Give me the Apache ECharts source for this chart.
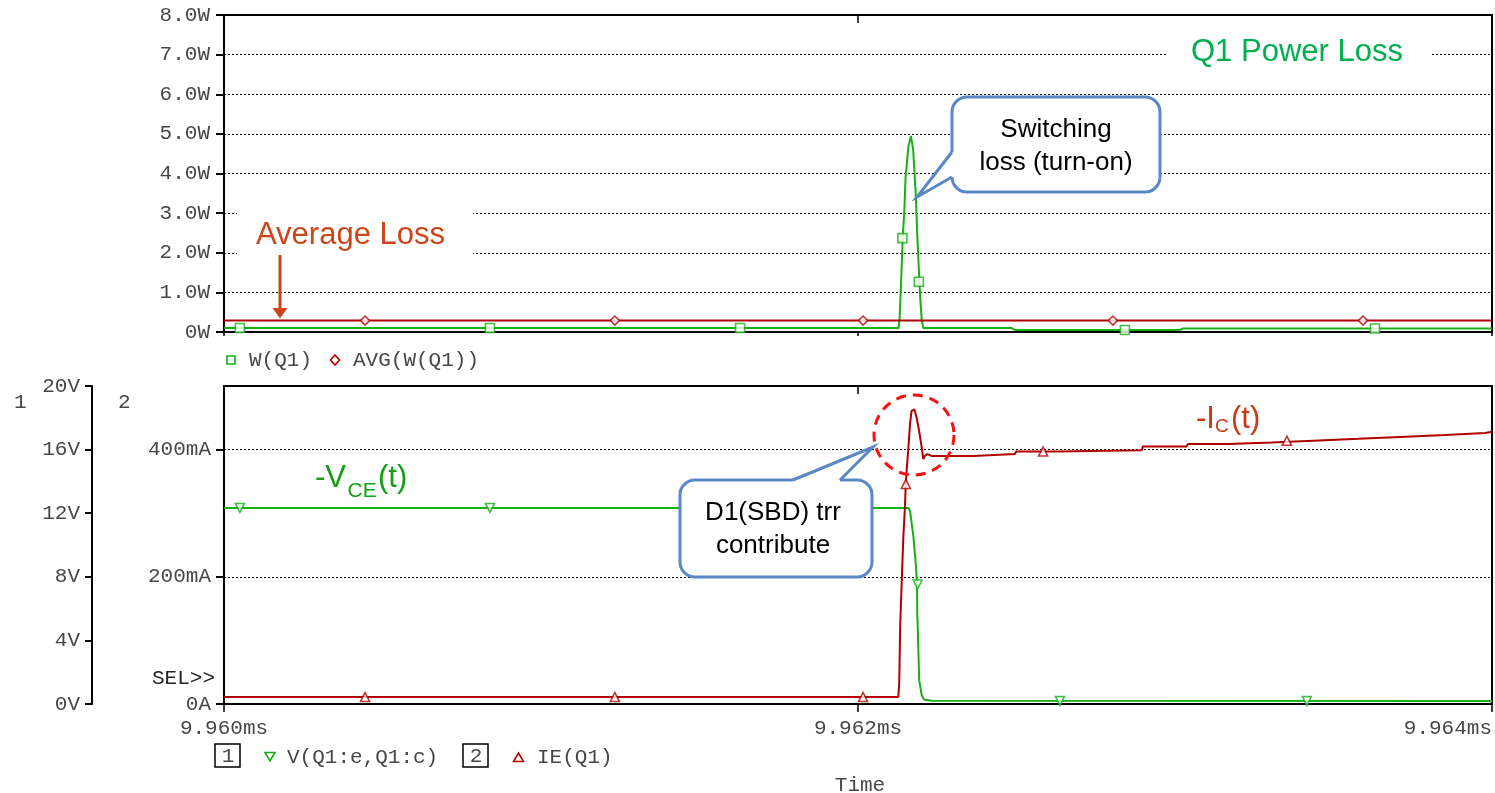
<!DOCTYPE html>
<html>
<head>
<meta charset="utf-8">
<title>Q1 Power Loss</title>
<script src="https://cdn.jsdelivr.net/npm/echarts@6.0.0/dist/echarts.min.js"></script>
<style>
  html, body { margin: 0; padding: 0; background: #fff; }
  #chart { width: 1495px; height: 793px; }
</style>
</head>
<body>
<div id="chart"></div>
<script>
// Time axis in microseconds (labels shown in ms)
const timeMin = 9960;
const timeMax = 9964;
const timeStep = 2;

// Upper pane: transistor dissipation W(Q1) [W] and its running average
const wQ1 = [
  [9960.000, 0.10], [9962.128, 0.10], [9962.131, 0.30], [9962.136, 1.26],
  [9962.141, 2.37], [9962.146, 3.04], [9962.150, 3.90], [9962.159, 4.68],
  [9962.167, 4.95], [9962.174, 4.60], [9962.182, 3.50], [9962.188, 2.25],
  [9962.196, 0.90], [9962.201, 0.30], [9962.206, 0.10], [9962.485, 0.10],
  [9962.495, 0.05], [9963.016, 0.05], [9963.026, 0.09], [9964.000, 0.09]
];
const avgWQ1 = [[9960.000, 0.29], [9964.000, 0.29]];
const wQ1Marks = [
  [9960.050, 0.10], [9960.839, 0.10], [9961.628, 0.10], [9962.140, 2.37],
  [9962.192, 1.27], [9962.842, 0.05], [9963.631, 0.09]
];
const avgMarks = [
  [9960.445, 0.29], [9961.233, 0.29], [9962.016, 0.29], [9962.804, 0.29], [9963.593, 0.29]
];

// Lower pane: V(Q1:e,Q1:c) [V] on axis 1, IE(Q1) [mA] on axis 2
const vEC = [
  [9960.000, 12.33], [9962.159, 12.33], [9962.164, 12.16], [9962.175, 10.49],
  [9962.183, 8.61], [9962.186, 7.57], [9962.187, 5.69], [9962.189, 4.43],
  [9962.193, 1.50], [9962.201, 0.56], [9962.208, 0.29], [9962.232, 0.21],
  [9964.000, 0.19]
];
const vECMarks = [
  [9960.050, 12.33], [9960.839, 12.33], [9962.188, 7.52], [9962.637, 0.19], [9963.416, 0.19]
];
const iE = [
  [9960.000, 11], [9962.127, 11], [9962.130, 32], [9962.133, 121],
  [9962.138, 194], [9962.143, 262], [9962.148, 309], [9962.151, 351],
  [9962.159, 403], [9962.164, 440], [9962.169, 461], [9962.178, 463],
  [9962.185, 450], [9962.193, 429], [9962.201, 403], [9962.206, 385],
  [9962.211, 390], [9962.219, 393], [9962.232, 390],
  [9962.364, 390], [9962.368, 393], [9962.495, 393], [9962.499, 397],
  [9962.631, 397], [9962.635, 399], [9962.895, 399], [9962.899, 405],
  [9963.037, 405], [9963.041, 409], [9963.168, 409], [9963.172, 411],
  [9963.305, 411], [9963.309, 414], [9963.436, 414], [9963.440, 417],
  [9963.578, 417], [9963.582, 420], [9963.710, 420], [9963.714, 423],
  [9963.852, 423], [9963.856, 426], [9963.978, 426], [9963.982, 428],
  [9964.000, 428]
];
const iEMarks = [
  [9960.445, 11], [9961.233, 11], [9962.016, 11], [9962.151, 346], [9962.584, 397], [9963.353, 414]
];

// Tick label text
const fmtTime = v => (v / 1000).toFixed(3) + 'ms';
const fmtWatt = v => (v === 0 ? '0W' : v.toFixed(1) + 'W');
const fmtVolt = v => v + 'V';
const fmtAmp = v => (v === 0 ? '0A' : v + 'mA');

const GREEN = '#14b014';
const RED = '#b00000';
const MONO = '"Liberation Mono", "DejaVu Sans Mono", monospace';
const SANS = '"Liberation Sans", Arial, sans-serif';
const LABEL = '#474747';
const CALLOUT = '#5a87c6';

const labelStyle = { color: LABEL, fontFamily: MONO, fontSize: 21 };
const blackLine = { color: '#000', width: 2 };
const dotted = { color: '#000', width: 1, type: [2, 2] };

function timeAxis(grid, pos, opts) {
  return Object.assign({
    type: 'value', gridIndex: grid, position: pos,
    min: timeMin, max: timeMax, interval: timeStep,
    axisLine: { show: true, onZero: false, lineStyle: blackLine },
    axisTick: { show: true, inside: pos === 'top', length: 8, lineStyle: { color: '#000', width: 1.5 } },
    axisLabel: { show: false },
    splitLine: { show: false }
  }, opts || {});
}

function txt(x, y, text, size, color, family, align, z) {
  return {
    type: 'text', z: z || 110, silent: true,
    style: {
      x: x, y: y, text: text, fill: color, fontSize: size, fontFamily: family,
      align: align || 'left', verticalAlign: 'middle',
      textAlign: align || 'left', textVerticalAlign: 'middle'
    }
  };
}

// Rounded callout box with a pointer drawn as rect + covering wedge + outline
function callout(box, base1, tip, base2, inward, lines, cx, ys) {
  const els = [
    { type: 'rect', z: 100, silent: true,
      shape: { x: box[0], y: box[1], width: box[2], height: box[3], r: 15 },
      style: { fill: '#fff', stroke: CALLOUT, lineWidth: 3 } },
    { type: 'polygon', z: 101, silent: true,
      shape: { points: [[base1[0] + inward[0], base1[1] + inward[1]], base1, tip, base2, [base2[0] + inward[0], base2[1] + inward[1]]] },
      style: { fill: '#fff', stroke: null } },
    { type: 'polyline', z: 102, silent: true,
      shape: { points: [base1, tip, base2] },
      style: { fill: null, stroke: CALLOUT, lineWidth: 3, lineJoin: 'miter' } }
  ];
  lines.forEach((t, i) => els.push(txt(cx, ys[i], t, 26, '#000', SANS, 'center', 103)));
  return els;
}

const graphics = [
  // Title with white backing over the 7.0W grid line
  { type: 'rect', z: 100, silent: true, shape: { x: 1168, y: 30, width: 264, height: 45 }, style: { fill: '#fff' } },
  txt(1191, 52, 'Q1 Power Loss', 31, '#00b050', SANS),
  // Average loss note and arrow
  { type: 'rect', z: 100, silent: true, shape: { x: 237, y: 203, width: 236, height: 60 }, style: { fill: '#fff' } },
  txt(256, 235, 'Average Loss', 31, '#cc4418', SANS),
  { type: 'line', z: 110, silent: true, shape: { x1: 280, y1: 255, x2: 280, y2: 309 }, style: { stroke: '#cc4418', lineWidth: 3 } },
  { type: 'polygon', z: 110, silent: true, shape: { points: [[272.5, 308], [287.5, 308], [280, 318.5]] }, style: { fill: '#cc4418' } },
  // Trace names
  txt(315, 478, '-V', 31, '#14a014', SANS),
  txt(347.5, 491, 'CE', 21, '#14a014', SANS),
  txt(378, 478, '(t)', 31, '#14a014', SANS),
  txt(1196, 419, '-I', 31, '#cc3a14', SANS),
  txt(1215, 426.5, 'C', 19, '#cc3a14', SANS),
  txt(1231, 419, '(t)', 31, '#cc3a14', SANS),
  // Reverse-recovery highlight
  { type: 'circle', z: 110, silent: true, shape: { cx: 914, cy: 435, r: 40 },
    style: { fill: 'none', stroke: '#ff1010', lineWidth: 3, lineDash: [10, 7] } },
  // Axis captions
  txt(14, 402, '1', 21, LABEL, MONO),
  txt(118, 402, '2', 21, LABEL, MONO),
  txt(152, 678, 'SEL>>', 21, '#222', MONO),
  txt(860, 785, 'Time', 21, LABEL, MONO, 'center'),
  // Upper legend
  { type: 'rect', z: 110, silent: true, shape: { x: 227, y: 356, width: 8, height: 8 }, style: { fill: '#fff', stroke: GREEN, lineWidth: 1.6 } },
  txt(249, 360, 'W(Q1)', 21, LABEL, MONO),
  { type: 'polygon', z: 110, silent: true, shape: { points: [[335, 355], [339.5, 360], [335, 365], [330.5, 360]] }, style: { fill: '#fff', stroke: RED, lineWidth: 1.6 } },
  txt(353, 360, 'AVG(W(Q1))', 21, LABEL, MONO),
  // Lower legend
  { type: 'rect', z: 110, silent: true, shape: { x: 215, y: 744, width: 25, height: 23 }, style: { fill: 'none', stroke: '#000', lineWidth: 1.5 } },
  txt(228, 756, '1', 21, LABEL, MONO, 'center'),
  { type: 'polygon', z: 110, silent: true, shape: { points: [[265, 752.5], [275, 752.5], [270, 761]] }, style: { fill: '#fff', stroke: GREEN, lineWidth: 1.6 } },
  txt(287, 757, 'V(Q1:e,Q1:c)', 21, LABEL, MONO),
  { type: 'rect', z: 110, silent: true, shape: { x: 463, y: 744, width: 25, height: 23 }, style: { fill: 'none', stroke: '#000', lineWidth: 1.5 } },
  txt(476, 756, '2', 21, LABEL, MONO, 'center'),
  { type: 'polygon', z: 110, silent: true, shape: { points: [[513.5, 761.5], [523.5, 761.5], [518.5, 753]] }, style: { fill: '#fff', stroke: RED, lineWidth: 1.6 } },
  txt(537, 757, 'IE(Q1)', 21, LABEL, MONO)
].concat(
  callout([952, 97, 208, 95], [952, 152], [917, 197], [952, 177], [4, 0],
          ['Switching', 'loss (turn-on)'], 1056, [130, 163]),
  callout([680, 480, 192, 97], [793, 480], [873, 447], [840, 480], [0, 4],
          ['D1(SBD) trr', 'contribute'], 773, [513, 546])
);

function lineSeries(name, data, color, xi, yi) {
  return {
    name: name, type: 'line', data: data, xAxisIndex: xi, yAxisIndex: yi,
    showSymbol: false, symbol: 'none', silent: true, z: 3,
    lineStyle: { color: color, width: 2 }
  };
}
function markSeries(name, data, color, symbol, rotate, xi, yi) {
  return {
    name: name, type: 'scatter', data: data, xAxisIndex: xi, yAxisIndex: yi,
    symbol: symbol, symbolSize: 9, symbolRotate: rotate, silent: true, z: 4,
    itemStyle: { color: '#fff', borderColor: color, borderWidth: 1.6 }
  };
}

const option = {
  animation: false,
  backgroundColor: '#fff',
  grid: [
    { left: 224, top: 15, width: 1268, height: 317, show: true, borderColor: '#000', borderWidth: 2 },
    { left: 224, top: 386, width: 1268, height: 318, show: true, borderColor: '#000', borderWidth: 2 }
  ],
  xAxis: [
    timeAxis(0, 'bottom', { axisTick: { show: true, length: 4, lineStyle: { color: '#000', width: 1.5 } } }),
    timeAxis(0, 'top'),
    timeAxis(1, 'bottom', {
      axisLabel: Object.assign({ show: true, margin: 14, formatter: fmtTime, alignMaxLabel: 'right' }, labelStyle)
    }),
    timeAxis(1, 'top')
  ],
  yAxis: [
    {
      type: 'value', gridIndex: 0, position: 'left', min: 0, max: 8, interval: 1,
      axisLine: { show: true, lineStyle: blackLine },
      axisTick: { show: true, length: 8, lineStyle: blackLine },
      axisLabel: Object.assign({ margin: 14, formatter: fmtWatt }, labelStyle),
      splitLine: { show: true, lineStyle: dotted }
    },
    {
      type: 'value', gridIndex: 1, position: 'left', offset: 132, min: 0, max: 20, interval: 4,
      axisLine: { show: true, lineStyle: blackLine },
      axisTick: { show: true, length: 7, lineStyle: blackLine },
      axisLabel: Object.assign({ margin: 12, formatter: fmtVolt }, labelStyle),
      splitLine: { show: false }
    },
    {
      type: 'value', gridIndex: 1, position: 'left', offset: 0, min: 0, max: 500, interval: 200,
      axisLine: { show: true, lineStyle: blackLine },
      axisTick: { show: true, length: 8, lineStyle: blackLine },
      axisLabel: Object.assign({ margin: 13, formatter: fmtAmp, showMaxLabel: false }, labelStyle),
      splitLine: { show: true, lineStyle: dotted }
    }
  ],
  series: [
    lineSeries('W(Q1)', wQ1, GREEN, 0, 0),
    lineSeries('AVG(W(Q1))', avgWQ1, RED, 0, 0),
    markSeries('W(Q1)', wQ1Marks, GREEN, 'rect', 0, 0, 0),
    markSeries('AVG(W(Q1))', avgMarks, RED, 'diamond', 0, 0, 0),
    lineSeries('V(Q1:e,Q1:c)', vEC, GREEN, 2, 1),
    lineSeries('IE(Q1)', iE, RED, 2, 2),
    markSeries('V(Q1:e,Q1:c)', vECMarks, GREEN, 'triangle', 180, 2, 1),
    markSeries('IE(Q1)', iEMarks, RED, 'triangle', 0, 2, 2)
  ],
  graphic: { elements: graphics }
};

const chart = echarts.init(document.getElementById('chart'), null, { renderer: 'canvas' });
chart.setOption(option);
</script>
</body>
</html>
